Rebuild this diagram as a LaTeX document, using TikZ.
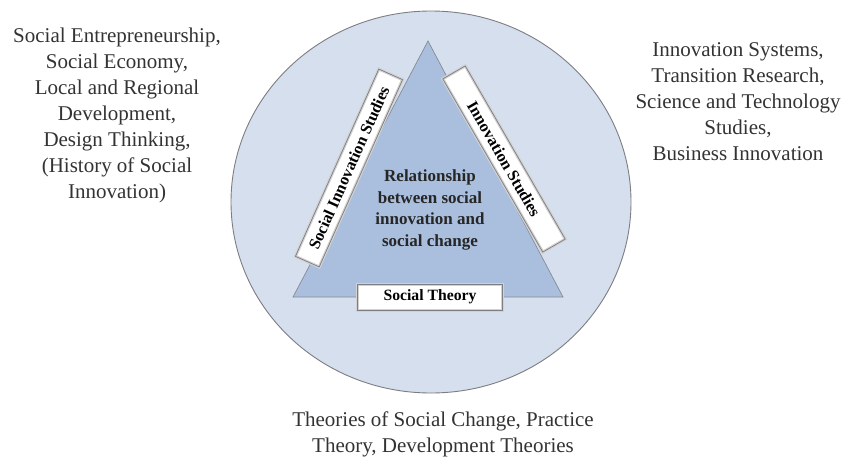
\documentclass[tikz,border=0pt]{standalone}
\usepackage{fontspec}
\setmainfont{Liberation Serif}
\definecolor{outerblue}{RGB}{213,223,238}
\definecolor{innerblue}{RGB}{170,191,222}
\definecolor{rimgray}{RGB}{125,125,130}
\tikzset{
	field/.style={font=\fontsize{21}{26}\selectfont, align=center, text=black!80},
	banner/.style={draw=gray!35, line width=3pt, fill=white, minimum height=26pt, inner sep=0pt,
		postaction={draw=rimgray, line width=0.7pt},
		font=\bfseries\fontsize{15.7}{18}\selectfont},
	sidebanner/.style={banner, font=\bfseries\fontsize{16.3}{18}\selectfont}
}
\begin{document}
\begin{tikzpicture}[x=1pt, y=-1pt]
		\useasboundingbox (0,0) rectangle (846,458);
		\draw[rimgray, fill=outerblue, line width=0.9pt] (431,202) ellipse (200 and 191);
		\draw[rimgray!80!innerblue, fill=innerblue, line width=0.7pt] (428,41) -- (563,297) -- (293,297) -- cycle;
		\node[align=center, font=\bfseries\fontsize{17}{21.5}\selectfont, text=black!85] (core) at (430,210) {Relationship\\between social\\innovation and\\social change};
		\node[sidebanner, minimum width=205pt, rotate=66] (sis) at (349,168) {Social Innovation Studies};
		\node[sidebanner, minimum width=200pt, rotate=-60] (is) at (504,159) {Innovation Studies};
		\node[banner, minimum width=145pt] (st) at (430,297) {Social Theory};
		\node[field] (left) at (117,115) {Social Entrepreneurship,\\Social Economy,\\Local and Regional\\Development,\\Design Thinking,\\(History of Social\\Innovation)};
		\node[field] (right) at (738,102) {Innovation Systems,\\Transition Research,\\Science and Technology\\Studies,\\Business Innovation};
		\node[field] (bottom) at (443,434) {Theories of Social Change, Practice\\Theory, Development Theories};
	\end{tikzpicture}
\end{document}
